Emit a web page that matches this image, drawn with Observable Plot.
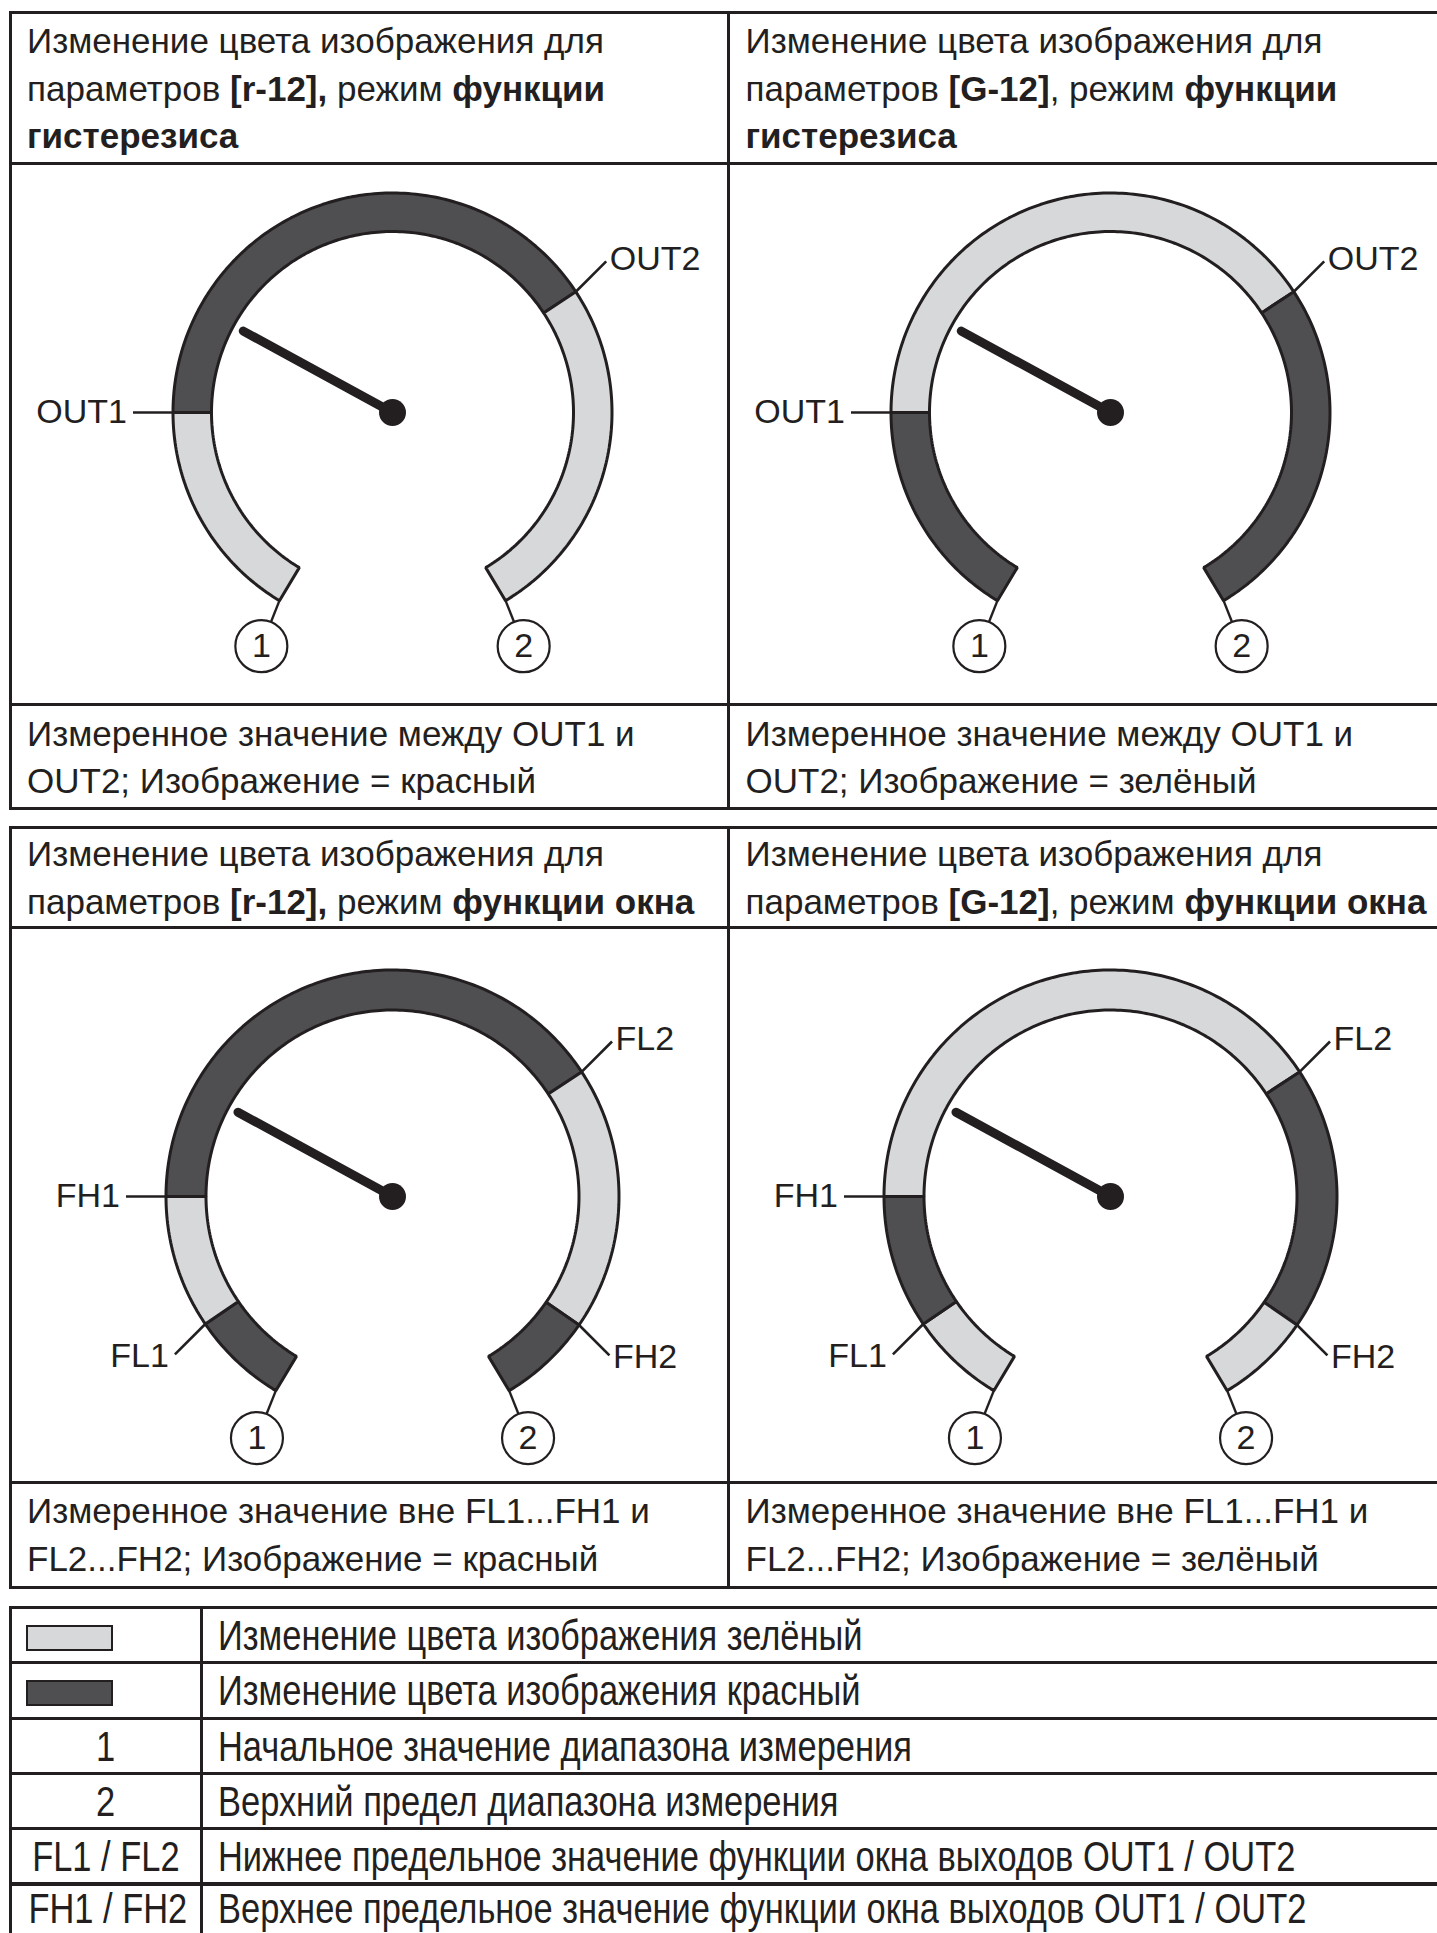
<!DOCTYPE html>
<html>
<head>
<meta charset="utf-8">
<script src="https://cdn.jsdelivr.net/npm/d3@7"></script>
<script src="https://cdn.jsdelivr.net/npm/@observablehq/plot@0.6"></script>
<style>
html, body { margin: 0; padding: 0; background: #fff; }
#page { position: relative; width: 1437px; height: 1933px; overflow: hidden;
  font-family: "Liberation Sans", Arial, Helvetica, sans-serif; color: #231f20; background: #fff; }
.box { position: absolute; box-sizing: border-box; border: 3px solid #231f20; }
.txt { position: absolute; white-space: nowrap; }
.leg { position: absolute; white-space: nowrap; transform-origin: 0 0; }
.key { position: absolute; white-space: nowrap; text-align: center; }
.key span { display: inline-block; transform-origin: 50% 50%; }
.sw { position: absolute; box-sizing: border-box; border: 2px solid #231f20; }
.gauge { position: absolute; }
</style>
</head>
<body>
<div id="page"></div>
<script>
// ---------------- data ----------------
const states = ["зелёный", "красный"];
const stateFill = ["#d6d8da", "#4f4f52"];

// positions along the measuring range, % (0 = start value ①, 100 = upper limit ②)
const hystNames = ["OUT1", "OUT2"];
const hystValues = [19.8, 69];
const windowNames = ["FL1", "FH1", "FL2", "FH2"];
const windowValues = [8.3, 19.8, 69, 91.8];
const endNames = ["1", "2"];
const endValues = [0, 100];
const needleValue = 29.4;

const segR12Hyst = ["зелёный", "красный", "зелёный"];
const segG12Hyst = ["красный", "зелёный", "красный"];
const segR12Win = ["красный", "зелёный", "красный", "зелёный", "красный"];
const segG12Win = ["зелёный", "красный", "зелёный", "красный", "зелёный"];

const titleLines = [
  ["Изменение цвета изображения для", "параметров **[r-12],** режим **функции**", "**гистерезиса**"],
  ["Изменение цвета изображения для", "параметров **[G-12]**, режим **функции**", "**гистерезиса**"],
  ["Изменение цвета изображения для", "параметров **[r-12],** режим **функции окна**"],
  ["Изменение цвета изображения для", "параметров **[G-12]**, режим **функции окна**"]
];
const captionLines = [
  ["Измеренное значение между OUT1 и", "OUT2; Изображение = красный"],
  ["Измеренное значение между OUT1 и", "OUT2; Изображение = зелёный"],
  ["Измеренное значение вне FL1...FH1 и", "FL2...FH2; Изображение = красный"],
  ["Измеренное значение вне FL1...FH1 и", "FL2...FH2; Изображение = зелёный"]
];
const legendKeys = ["зелёный", "красный", "1", "2", "FL1 / FL2", "FH1 / FH2"];
const legendTexts = [
  "Изменение цвета изображения зелёный",
  "Изменение цвета изображения красный",
  "Начальное значение диапазона измерения",
  "Верхний предел диапазона измерения",
  "Нижнее предельное значение функции окна выходов OUT1 / OUT2",
  "Верхнее предельное значение функции окна выходов OUT1 / OUT2"
];

// ---------------- layout ----------------
const INK = "#231f20";
const FONT = "Liberation Sans, Arial, Helvetica, sans-serif";
const page = document.getElementById("page");

function box(x1, y1, x2, y2) {
  const d = document.createElement("div");
  d.className = "box";
  Object.assign(d.style, {left: (x1 - 1.5) + "px", top: (y1 - 1.5) + "px",
    width: (x2 - x1 + 3) + "px", height: (y2 - y1 + 3) + "px"});
  page.appendChild(d);
}
function fmt(s) {
  return s.replace(/\*\*(.+?)\*\*/g, "<b>$1</b>");
}
function baseTop(baseline, fs, lh) {
  return baseline - ((lh - 1.117 * fs) / 2 + 0.905 * fs);
}
function textBlock(lines, x, baseline, fs, lh) {
  const d = document.createElement("div");
  d.className = "txt";
  Object.assign(d.style, {left: x + "px", top: baseTop(baseline, fs, lh) + "px",
    fontSize: fs + "px", lineHeight: lh + "px"});
  d.innerHTML = lines.map(fmt).join("<br>");
  page.appendChild(d);
}

const colX = [10.5, 728, 1440];
const t1Y = [12, 163, 704.5, 808];
const t2Y = [827, 927, 1482, 1587];
const legY = [1607.5, 1662.8, 1718.1, 1773.4, 1828.7, 1884, 1939.3];
const legX = [10.5, 201.3, 1440];

[t1Y, t2Y].forEach(ys => {
  for (let c = 0; c < 2; c++)
    for (let r = 0; r < 3; r++) box(colX[c], ys[r], colX[c + 1], ys[r + 1]);
});
for (let r = 0; r < 6; r++)
  for (let c = 0; c < 2; c++) box(legX[c], legY[r], legX[c + 1], legY[r + 1]);

const TFS = 35, TLH = 47.5;
const textX = [27, 745.5];
textBlock(titleLines[0], textX[0], 53, TFS, TLH);
textBlock(titleLines[1], textX[1], 53, TFS, TLH);
textBlock(captionLines[0], textX[0], 745.5, TFS, TLH);
textBlock(captionLines[1], textX[1], 745.5, TFS, TLH);
textBlock(titleLines[2], textX[0], 866, TFS, TLH);
textBlock(titleLines[3], textX[1], 866, TFS, TLH);
textBlock(captionLines[2], textX[0], 1523, TFS, TLH);
textBlock(captionLines[3], textX[1], 1523, TFS, TLH);

// legend
const LFS = 42, LSX = 0.82;
legendKeys.forEach((k, i) => {
  const top = legY[i];
  const base = top + (i === legendKeys.length - 1 ? 39 : 42.5);
  const si = states.indexOf(k);
  if (si >= 0) {
    const s = document.createElement("div");
    s.className = "sw";
    Object.assign(s.style, {left: "26px", top: (top + 17) + "px", width: "87px", height: "26px",
      background: stateFill[si]});
    page.appendChild(s);
  } else {
    const d = document.createElement("div");
    d.className = "key";
    Object.assign(d.style, {left: legX[0] + "px", width: (legX[1] - legX[0]) + "px",
      top: baseTop(base, LFS, 55) + "px", fontSize: LFS + "px", lineHeight: "55px"});
    d.innerHTML = `<span style="transform:scaleX(${LSX})">${k}</span>`;
    page.appendChild(d);
  }
  const t = document.createElement("div");
  t.className = "leg";
  Object.assign(t.style, {left: "218px", top: baseTop(base, LFS, 55) + "px",
    fontSize: LFS + "px", lineHeight: "55px", transform: `scaleX(${LSX})`});
  t.textContent = legendTexts[i];
  page.appendChild(t);
});

// ---------------- gauges ----------------
const A0 = 31, SWEEP = 298; // degrees, clockwise from bottom

function gaugePlot(g) {
  const {w, h, cx, cy, ro, ri, nl, rc, values, names, segs} = g;
  const rad = (v, da = 0) => (A0 + SWEEP * v / 100 + da) * Math.PI / 180;
  const P = (v, r, da = 0) => ({x: cx - r * Math.sin(rad(v, da)), y: cy + r * Math.cos(rad(v, da))});
  const bounds = [0, ...values, 100];
  const ring = [];
  segs.forEach((s, i) => {
    const a = bounds[i], b = bounds[i + 1];
    const n = Math.max(2, Math.ceil((b - a) * 3));
    for (let k = 0; k <= n; k++) ring.push({seg: i, state: s, ...P(a + (b - a) * k / n, ro)});
    for (let k = n; k >= 0; k--) ring.push({seg: i, state: s, ...P(a + (b - a) * k / n, ri)});
  });
  const leaders = values.map((v, i) => {
    const p = P(v, ro);
    const ang = Math.atan2(p.y - cy, p.x - cx);
    const snap = Math.round(ang / (Math.PI / 4)) * Math.PI / 4;
    const horiz = Math.abs(Math.sin(snap)) < 0.01;
    const len = horiz ? 40 : 43;
    const q = {x: p.x + len * Math.cos(snap), y: p.y + len * Math.sin(snap)};
    const left = Math.cos(snap) < 0;
    return {x1: horiz ? P(v, ri).x : p.x, y1: horiz ? P(v, ri).y : p.y, x2: q.x, y2: q.y,
      name: names[i], left, tx: q.x + (left ? -6 : 3.5), ty: q.y + (horiz ? 0 : 2 * Math.sign(Math.sin(snap)))};
  });
  const ends = endValues.map((v, i) => {
    const p = P(v, ro);
    const c = P(v, rc, v === 0 ? -1.7 : 1.7);
    return {x1: p.x, y1: p.y, x2: c.x, y2: c.y, name: endNames[i]};
  });
  const tip = P(needleValue, nl);
  const needle = [{x1: cx, y1: cy, x2: tip.x, y2: tip.y}];

  return Plot.plot({
    width: w, height: h, margin: 0,
    x: {domain: [0, w], range: [0, w], axis: null},
    y: {domain: [0, h], range: [0, h], axis: null},
    color: {domain: states, range: stateFill},
    style: {background: "none", overflow: "visible", fontFamily: FONT},
    marks: [
      Plot.line(ring, {x: "x", y: "y", z: "seg", fill: "state", stroke: INK, strokeWidth: 3,
        strokeLinejoin: "miter", curve: "linear-closed"}),
      Plot.link(leaders, {x1: "x1", y1: "y1", x2: "x2", y2: "y2", stroke: INK, strokeWidth: 2.6}),
      Plot.link(ends, {x1: "x1", y1: "y1", x2: "x2", y2: "y2", stroke: INK, strokeWidth: 2.4}),
      Plot.dot(ends, {x: "x2", y: "y2", r: 26, fill: "white", stroke: INK, strokeWidth: 2.2}),
      Plot.text(ends, {x: "x2", y: "y2", text: "name", fontSize: 34, fill: INK, fontFamily: FONT}),
      Plot.link(needle, {x1: "x1", y1: "y1", x2: "x2", y2: "y2", stroke: INK, strokeWidth: 9,
        strokeLinecap: "round"}),
      Plot.dot(needle, {x: "x1", y: "y1", r: 13.5, fill: INK, stroke: "none"}),
      Plot.text(leaders.filter(d => d.left), {x: "tx", y: "ty", text: "name", textAnchor: "end",
        fontSize: 34, fill: INK, fontFamily: FONT}),
      Plot.text(leaders.filter(d => !d.left), {x: "tx", y: "ty", text: "name", textAnchor: "start",
        fontSize: 34, fill: INK, fontFamily: FONT})
    ]
  });
}

function placeGauge(svg, left, top) {
  const wrap = document.createElement("div");
  wrap.className = "gauge";
  wrap.style.left = left + "px";
  wrap.style.top = top + "px";
  wrap.appendChild(svg);
  page.appendChild(wrap);
}

const topGeom = {h: 538, cx: 380, cy: 247, ro: 219.5, ri: 181, nl: 170, rc: 268};
const botGeom = {h: 552, cx: 380, cy: 267, ro: 226.5, ri: 186.5, nl: 176, rc: 277};

placeGauge(gaugePlot({...topGeom, w: 714, values: hystValues, names: hystNames, segs: segR12Hyst}), 12, 165);
placeGauge(gaugePlot({...topGeom, w: 707, values: hystValues, names: hystNames, segs: segG12Hyst}), 730, 165);
placeGauge(gaugePlot({...botGeom, w: 714, values: windowValues, names: windowNames, segs: segR12Win}), 12, 929);
placeGauge(gaugePlot({...botGeom, w: 707, values: windowValues, names: windowNames, segs: segG12Win}), 730, 929);
</script>
</body>
</html>
